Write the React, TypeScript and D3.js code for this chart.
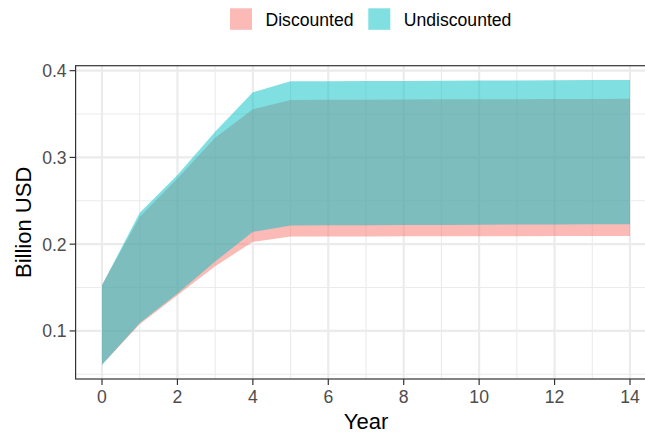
import React, { useRef, useEffect } from "react";
import * as d3 from "d3";

// values
const years = [0, 1, 2, 3, 4, 5, 6, 7, 8, 9, 10, 11, 12, 13, 14];
const discountedLow = [0.061, 0.1077, 0.141, 0.1746, 0.2027, 0.2087, 0.2088, 0.2089, 0.209, 0.2091, 0.2091, 0.2092, 0.2093, 0.2093, 0.2094];
const discountedHigh = [0.153, 0.2315, 0.2758, 0.3226, 0.3554, 0.3663, 0.3665, 0.3666, 0.3668, 0.3669, 0.367, 0.3671, 0.3672, 0.3674, 0.3675];
const undiscountedLow = [0.061, 0.109, 0.143, 0.18, 0.2142, 0.2215, 0.2217, 0.2219, 0.222, 0.2222, 0.2224, 0.2226, 0.2227, 0.2229, 0.2231];
const undiscountedHigh = [0.1527, 0.2361, 0.2796, 0.3295, 0.375, 0.3877, 0.3879, 0.388, 0.3882, 0.3884, 0.3886, 0.3888, 0.3889, 0.3891, 0.3893];
const seriesNames = ["Discounted", "Undiscounted"];
const seriesColors = ["#F8766D", "#00BFC4"];
const xTicks = [0, 2, 4, 6, 8, 10, 12, 14];
const xMinor = [1, 3, 5, 7, 9, 11, 13];
const yTicks = [0.1, 0.2, 0.3, 0.4];
const yMinor = [0.05, 0.15, 0.25, 0.35];

const FONT = "'Liberation Sans', Arial, sans-serif";

const App = () => {
    const ref = useRef<SVGSVGElement>(null);

    useEffect(() => {
        const width = 645;
        const height = 434;
        const panel = { left: 75.6, right: 656.4, top: 65.7, bottom: 379 };

        const svg = d3.select(ref.current)
            .attr("width", width)
            .attr("height", height);
        svg.selectAll("*").remove();

        // ggplot style 5% expansion on both axes
        const allY = [...discountedLow, ...discountedHigh, ...undiscountedLow, ...undiscountedHigh];
        const yMin = d3.min(allY) as number;
        const yMax = d3.max(allY) as number;
        const yPad = (yMax - yMin) * 0.05;
        const xPad = (14 - 0) * 0.05;

        const xScale = d3.scaleLinear()
            .domain([0 - xPad, 14 + xPad])
            .range([panel.left, panel.right]);
        const yScale = d3.scaleLinear()
            .domain([yMin - yPad, yMax + yPad])
            .range([panel.bottom, panel.top]);

        const g = svg.append("g");

        // panel background + grid
        g.append("rect")
            .attr("x", panel.left).attr("y", panel.top)
            .attr("width", panel.right - panel.left)
            .attr("height", panel.bottom - panel.top)
            .attr("fill", "white");

        g.selectAll(".xminor").data(xMinor).join("line")
            .attr("x1", (d) => xScale(d)).attr("x2", (d) => xScale(d))
            .attr("y1", panel.top).attr("y2", panel.bottom)
            .attr("stroke", "#EBEBEB").attr("stroke-width", 1.1);
        g.selectAll(".yminor").data(yMinor).join("line")
            .attr("y1", (d) => yScale(d)).attr("y2", (d) => yScale(d))
            .attr("x1", panel.left).attr("x2", panel.right)
            .attr("stroke", "#EBEBEB").attr("stroke-width", 1.1);
        g.selectAll(".xmajor").data(xTicks).join("line")
            .attr("x1", (d) => xScale(d)).attr("x2", (d) => xScale(d))
            .attr("y1", panel.top).attr("y2", panel.bottom)
            .attr("stroke", "#EBEBEB").attr("stroke-width", 2.1);
        g.selectAll(".ymajor").data(yTicks).join("line")
            .attr("y1", (d) => yScale(d)).attr("y2", (d) => yScale(d))
            .attr("x1", panel.left).attr("x2", panel.right)
            .attr("stroke", "#EBEBEB").attr("stroke-width", 2.1);

        // ribbons, discounted first so undiscounted sits on top
        const ribbons = [
            { name: seriesNames[0], low: discountedLow, high: discountedHigh, color: seriesColors[0] },
            { name: seriesNames[1], low: undiscountedLow, high: undiscountedHigh, color: seriesColors[1] },
        ];
        const area = d3.area<number>()
            .x((d) => xScale(d))
            .y0((d, i) => 0)
            .y1((d, i) => 0);

        ribbons.forEach((r) => {
            const a = d3.area<number>()
                .x((d) => xScale(d))
                .y0((d, i) => yScale(r.low[i]))
                .y1((d, i) => yScale(r.high[i]));
            g.append("path")
                .attr("d", a(years))
                .attr("fill", r.color)
                .attr("fill-opacity", 0.5)
                .attr("stroke", "none");
        });
        void area;

        // panel border
        g.append("rect")
            .attr("x", panel.left).attr("y", panel.top)
            .attr("width", panel.right - panel.left)
            .attr("height", panel.bottom - panel.top)
            .attr("fill", "none")
            .attr("stroke", "#333333")
            .attr("stroke-width", 1.2);

        // y axis ticks + labels
        g.selectAll(".ytick").data(yTicks).join("line")
            .attr("x1", panel.left - 6).attr("x2", panel.left)
            .attr("y1", (d) => yScale(d)).attr("y2", (d) => yScale(d))
            .attr("stroke", "#333333").attr("stroke-width", 1.2);
        g.selectAll(".ylab").data(yTicks).join("text")
            .attr("x", panel.left - 9)
            .attr("y", (d) => yScale(d))
            .attr("dy", "0.36em")
            .attr("text-anchor", "end")
            .style("font-family", FONT)
            .style("font-size", "17.6px")
            .style("fill", "#4D4D4D")
            .text((d) => d3.format(".1f")(d));

        // x axis ticks + labels
        g.selectAll(".xtick").data(xTicks).join("line")
            .attr("x1", (d) => xScale(d)).attr("x2", (d) => xScale(d))
            .attr("y1", panel.bottom).attr("y2", panel.bottom + 6)
            .attr("stroke", "#333333").attr("stroke-width", 1.2);
        g.selectAll(".xlab").data(xTicks).join("text")
            .attr("x", (d) => xScale(d))
            .attr("y", 403)
            .attr("text-anchor", "middle")
            .style("font-family", FONT)
            .style("font-size", "17.6px")
            .style("fill", "#4D4D4D")
            .text((d) => d);

        // axis titles
        g.append("text")
            .attr("x", (panel.left + panel.right) / 2)
            .attr("y", 429)
            .attr("text-anchor", "middle")
            .style("font-family", FONT)
            .style("font-size", "22px")
            .style("fill", "black")
            .text("Year");
        g.append("text")
            .attr("transform", `translate(30.5,${(panel.top + panel.bottom) / 2}) rotate(-90)`)
            .attr("text-anchor", "middle")
            .style("font-family", FONT)
            .style("font-size", "22px")
            .style("fill", "black")
            .text("Billion USD");

        // legend
        const legendX = [230, 368.3];
        const legend = g.selectAll(".legend").data(seriesNames).join("g")
            .attr("transform", (d, i) => `translate(${legendX[i]},8.3)`);
        legend.append("rect")
            .attr("width", 22).attr("height", 21.5)
            .attr("fill", (d, i) => seriesColors[i])
            .attr("fill-opacity", 0.5);
        legend.append("text")
            .attr("x", 35.5)
            .attr("y", 17.5)
            .style("font-family", FONT)
            .style("font-size", "17.6px")
            .style("fill", "black")
            .text((d) => d);
    }, []);

    return (
        <svg ref={ref} style={{ position: "absolute", left: 0, top: 0 }} />
    );
};

export default App;
